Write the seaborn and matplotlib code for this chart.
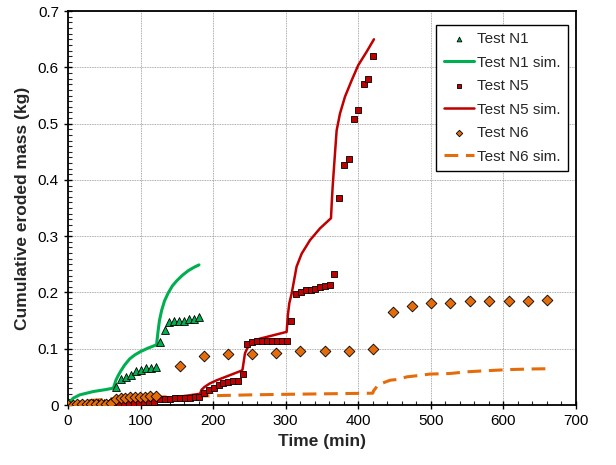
#!/usr/bin/env python3
"""
Cumulative eroded mass vs time: measured tests N1, N5, N6 and their simulations
"""
import matplotlib
matplotlib.use("Agg")
import matplotlib.pyplot as plt
from matplotlib.ticker import MultipleLocator, FuncFormatter
import seaborn as sns

# --- measured data (time in min, mass in kg) ---
n1_time = [0, 7, 14, 21, 28, 35, 42, 49, 56, 66, 72.6, 79.5, 86.4, 93.7, 100.6, 107.5,
           113.9, 121.3, 126.8, 133.7, 139.6, 146.5, 153.4, 160.3, 167.2, 174, 181]
n1_mass = [0, 0.001, 0.001, 0.002, 0.002, 0.003, 0.003, 0.004, 0.004, 0.032, 0.046, 0.050,
           0.054, 0.061, 0.063, 0.066, 0.066, 0.067, 0.112, 0.134, 0.147, 0.149, 0.150,
           0.150, 0.152, 0.153, 0.156]

n5_time = [0, 7, 14, 21, 28, 35, 42, 49, 56, 63, 70, 77, 84, 91, 98, 105, 112, 119,
           126.8, 133.7, 140.6, 147.5, 154.4, 161.3, 168.2, 175, 181, 187.4, 194.3, 201.2,
           207.6, 214, 220.9, 227.8, 234.7, 240.5, 247.1, 254, 260.8, 267.7, 274.6, 281.1,
           288, 294.4, 301.3, 307.3, 314.2, 320.6, 327.5, 334.4, 340.8, 347.2, 354.1, 361,
           367, 373.4, 380.7, 387.2, 393.6, 400, 407.4, 413.8, 420.7]
n5_mass = [0, 0, 0.001, 0.001, 0.001, 0.002, 0.002, 0.002, 0.003, 0.003, 0.003, 0.003,
           0.004, 0.004, 0.004, 0.005, 0.005, 0.006, 0.010, 0.011, 0.011, 0.012, 0.012,
           0.013, 0.013, 0.014, 0.015, 0.022, 0.027, 0.031, 0.035, 0.039, 0.041, 0.042,
           0.043, 0.055, 0.108, 0.112, 0.113, 0.113, 0.113, 0.113, 0.114, 0.114, 0.114,
           0.149, 0.198, 0.201, 0.204, 0.205, 0.207, 0.209, 0.211, 0.213, 0.232, 0.368,
           0.427, 0.437, 0.509, 0.524, 0.571, 0.580, 0.620]

n6_time = [0.4, 6.4, 12.8, 19.3, 25.7, 32.1, 38.6, 45, 51.9, 58.8, 66.1, 72.6, 79, 85.4,
           92.3, 99.2, 106.1, 113, 121.3, 154, 187.4, 221, 254, 287, 320, 354, 387, 420.7,
           447.3, 473.4, 500.2, 526.8, 553.5, 580.1, 607.2, 633.8, 660.5]
n6_mass = [0, 0, 0.001, 0.001, 0.001, 0.002, 0.002, 0.002, 0.002, 0.003, 0.011, 0.012,
           0.013, 0.014, 0.014, 0.015, 0.015, 0.016, 0.016, 0.069, 0.087, 0.090, 0.090,
           0.092, 0.096, 0.096, 0.096, 0.099, 0.165, 0.176, 0.181, 0.182, 0.184, 0.184,
           0.185, 0.185, 0.186]

# --- simulations ---
n1_sim_time = [0, 3, 7, 16, 35, 50, 62.5, 64, 66, 69, 73, 78, 85, 92, 100, 110, 122,
               124, 126, 129, 133, 138, 144, 150, 158, 166, 174, 180.5]
n1_sim_mass = [0, 0.006, 0.012, 0.018, 0.024, 0.027, 0.030, 0.036, 0.044, 0.052, 0.061,
               0.071, 0.082, 0.089, 0.095, 0.101, 0.107, 0.130, 0.150, 0.168, 0.185,
               0.199, 0.212, 0.221, 0.231, 0.239, 0.245, 0.249]

n5_sim_time = [0, 30, 60, 90, 122, 150, 182, 184, 188, 195, 205, 215, 225, 239, 240.5,
               243.9, 247.1, 250.8, 256.5, 264.6, 273.8, 283, 292.1, 301.3, 303, 305,
               308.2, 315, 322, 333.5, 347.3, 362.4, 363.5, 364.7, 367.9, 370.2, 374.8,
               381.7, 390.9, 400, 411.6, 421.6]
n5_sim_mass = [0, 0.004, 0.006, 0.008, 0.011, 0.014, 0.020, 0.027, 0.032, 0.038, 0.044,
               0.049, 0.054, 0.061, 0.063, 0.092, 0.101, 0.107, 0.114, 0.118, 0.121,
               0.124, 0.127, 0.130, 0.160, 0.181, 0.198, 0.246, 0.269, 0.293, 0.314,
               0.332, 0.360, 0.388, 0.447, 0.488, 0.518, 0.548, 0.577, 0.604, 0.628,
               0.650]

n6_sim_time = [0, 10, 30, 60, 120, 182, 250, 300, 360, 420, 421, 427.5, 443.7, 457.5,
               466.7, 480.5, 498.8, 526.4, 549.4, 577, 608.7, 636.6, 661.8]
n6_sim_mass = [0, 0.004, 0.008, 0.011, 0.014, 0.016, 0.018, 0.019, 0.020, 0.021, 0.025,
               0.036, 0.044, 0.046, 0.050, 0.052, 0.055, 0.056, 0.059, 0.061, 0.063, 0.064,
               0.0645]

GREEN = "#00B050"
RED = "#C00000"
ORANGE = "#E46C0A"

sns.set_style("white")
plt.rcParams["font.family"] = ["Liberation Sans", "DejaVu Sans"]

fig = plt.figure(figsize=(6.16, 4.65), dpi=100)
ax = fig.add_axes([0.1104, 0.129, 0.8246, 0.847])

edge = dict(edgecolor="black", linewidth=0.6)

sns.scatterplot(x=n1_time, y=n1_mass, marker="^", s=32, color=GREEN, ax=ax,
                label="Test N1", zorder=3, **edge)
sns.lineplot(x=n1_sim_time, y=n1_sim_mass, color=GREEN, linewidth=2.2, sort=False,
             estimator=None, ax=ax, label="Test N1 sim.", zorder=2)
sns.scatterplot(x=n5_time, y=n5_mass, marker="s", s=22, color=RED, ax=ax,
                label="Test N5", zorder=3, **edge)
sns.lineplot(x=n5_sim_time, y=n5_sim_mass, color=RED, linewidth=1.8, sort=False,
             estimator=None, ax=ax, label="Test N5 sim.", zorder=2)
sns.scatterplot(x=n6_time, y=n6_mass, marker="D", s=30, color=ORANGE, ax=ax,
                label="Test N6", zorder=3, **edge)
sns.lineplot(x=n6_sim_time, y=n6_sim_mass, color=ORANGE, linewidth=2.2, sort=False,
             estimator=None, ax=ax, label="Test N6 sim.", zorder=2,
             linestyle=(0, (4.5, 2.5)))

ax.set_xlim(0, 700)
ax.set_ylim(0, 0.7)
ax.xaxis.set_major_locator(MultipleLocator(100))
ax.xaxis.set_minor_locator(MultipleLocator(20))
ax.yaxis.set_major_locator(MultipleLocator(0.1))
ax.yaxis.set_minor_locator(MultipleLocator(0.01))
ax.yaxis.set_major_formatter(FuncFormatter(lambda v, p: "0" if abs(v) < 1e-9 else f"{v:.1f}"))

ax.grid(True, which="major", color="#909090", linestyle=(0, (1, 1)), linewidth=0.6)
ax.tick_params(which="major", direction="inout", length=6, width=1, labelsize=11,
               colors="black", bottom=True, left=True)
ax.tick_params(which="minor", direction="in", length=3, width=0.8,
               bottom=True, left=True)
for sp in ax.spines.values():
    sp.set_color("black")
    sp.set_linewidth(1.3)

ax.set_xlabel("Time (min)", fontsize=12.5, fontweight="bold", labelpad=4)
ax.set_ylabel("Cumulative eroded mass (kg)", fontsize=12.5, fontweight="bold", labelpad=6)

leg = ax.legend(loc="upper right", bbox_to_anchor=(0.999, 0.985), fontsize=11,
                frameon=True, fancybox=False, edgecolor="black", framealpha=1,
                handlelength=2.0, handletextpad=0.15, labelspacing=0.62,
                borderpad=0.5, markerscale=0.6)
leg.get_frame().set_linewidth(1.0)

fig.savefig("out.png", dpi=100)
